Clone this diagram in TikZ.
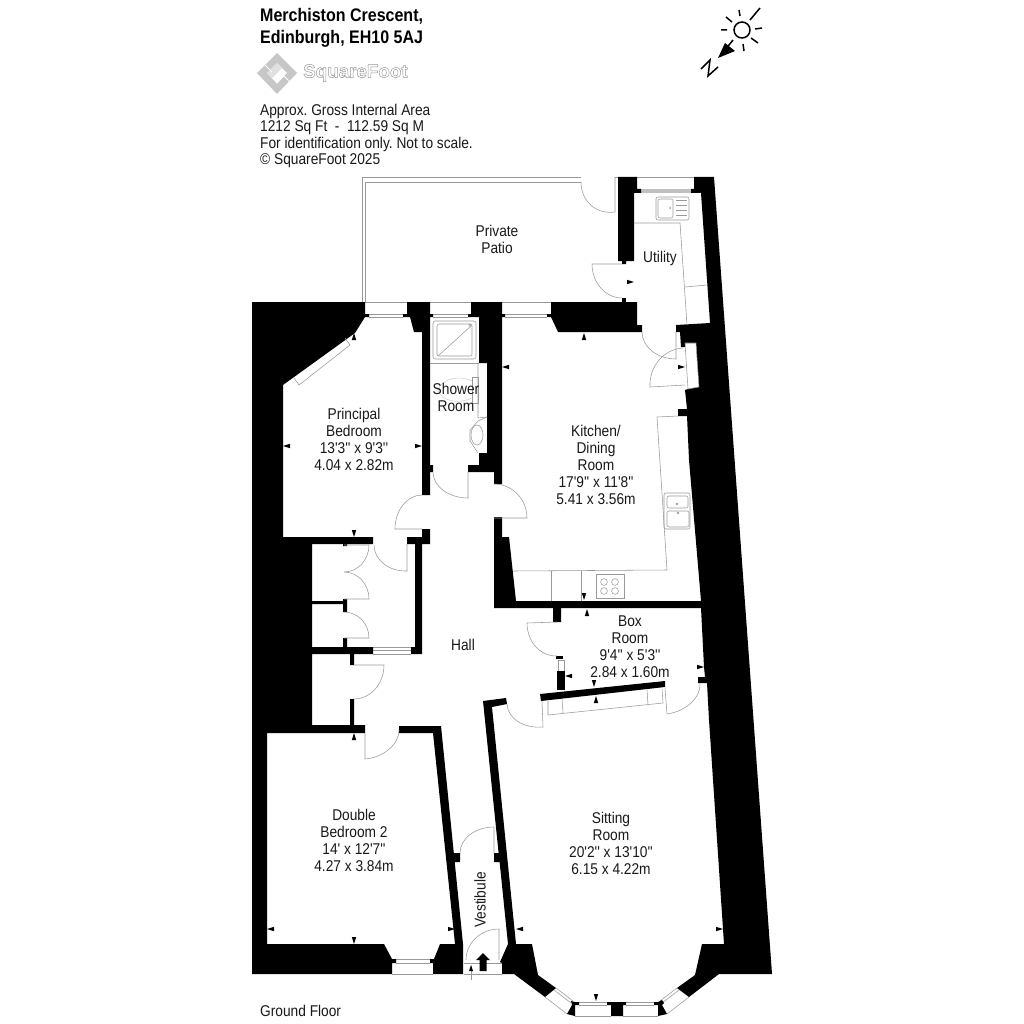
\documentclass[tikz,border=0pt]{standalone}
\usepackage{fontspec}
\defaultfontfeatures[\rmfamily]{}
\setmainfont{Liberation Sans}[FakeStretch=0.88]
\newfontfamily\logofont{Liberation Sans Bold}
\frenchspacing
\usetikzlibrary{calc}
\tikzset{
  x=1pt,y=-1pt,
  wall/.style={fill=black,draw=none},
  fine/.style={draw=black!40,line width=.55pt,line join=miter},
  room/.style={font=\fontsize{15.6}{17}\selectfont,align=center,inner sep=0pt,text=black!90},
  tiny/.style={fill=black,draw=none},
  ray/.style={draw=black,line width=1.5pt}
}
% hinge, leaf end, open end
\newcommand\door[3]{\draw[fine] (#1) -- (#2) .. controls ($(#2)+0.5523*(#3)-0.5523*(#1)$) and ($(#3)+0.5523*(#2)-0.5523*(#1)$) .. (#3);}
\newcommand\tickU[2]{\fill[tiny] (#1,#2) -- (#1+2.2,#2+7) -- (#1-2.2,#2+7) -- cycle;}
\newcommand\tickD[2]{\fill[tiny] (#1,#2) -- (#1+2.2,#2-7) -- (#1-2.2,#2-7) -- cycle;}
\newcommand\tickL[2]{\fill[tiny] (#1,#2) -- (#1+7,#2+2.2) -- (#1+7,#2-2.2) -- cycle;}
\newcommand\tickR[2]{\fill[tiny] (#1,#2) -- (#1-7,#2+2.2) -- (#1-7,#2-2.2) -- cycle;}
\begin{document}
\begin{tikzpicture}
\useasboundingbox (0,0) rectangle (1024,1024);
\fill[white] (0,0) rectangle (1024,1024);

% ---- patio
\draw[fine] (362,302) -- (362,177) -- (581,177);
\draw[fine] (365,302) -- (365,182) -- (581,182);
\draw[fine] (615,177) -- (618,177);
\door{615,177}{615,212}{581,182}

% ---- windows (thin lines)
\draw[fine] (365,302) -- (407,302) (369,314) -- (403,314) (369,317) -- (403,317);
\draw[fine] (430,302) -- (471,302) (433,314) -- (468,314) (433,317) -- (468,317);
\draw[fine] (502,302) -- (551,302) (505,314) -- (547,314) (505,317) -- (547,317);
\draw[fine] (637,177) -- (694,177);
\fill[black!25] (641,189) rectangle (691,193);
\draw[fine] (373,647) -- (411,647) (373,650) -- (411,650) (373,654) -- (411,654);
\draw[fine] (392,974) -- (433,974) (396,959) -- (430,959) (396,963) -- (430,963);
\draw[fine] (558,660) rectangle (564,671);

% ---- bay windows
\draw[fine] (579,1002) -- (607,1002) (579,1005) -- (607,1005) (575,1016) -- (611,1016);
\draw[fine] (626,1002) -- (654,1002) (626,1005) -- (654,1005) (623,1016) -- (658,1016);
\draw[fine] (545,997) -- (567,1014) (556,988) -- (573,1001) (554,990) -- (571,1003);
\draw[fine] (689,997) -- (667,1014) (677,988) -- (660,1001) (679,990) -- (662,1003);

% ---- walls
\fill[wall] (252,302) -- (365,302) -- (365,314) -- (369,314) -- (369,317) -- (365,317) -- (355,333) -- (283,385) -- (283,537) -- (373,537) -- (373,544) -- (347,544) -- (347,546) -- (343,546) -- (343,544) -- (312,544) -- (312,601) -- (343,601) -- (343,599) -- (347,599) -- (347,612) -- (343,612) -- (343,604) -- (312,604) -- (312,647) -- (343,647) -- (343,638) -- (347,638) -- (347,647) -- (373,647) -- (373,654) -- (354,654) -- (354,665) -- (350,665) -- (350,654) -- (312,654) -- (312,725) -- (350,725) -- (350,699) -- (354,699) -- (354,725) -- (365,725) -- (365,733) -- (267,733) -- (267,944) -- (384,944) -- (392,959) -- (396,959) -- (396,963) -- (392,963) -- (392,974) -- (252,974) -- cycle;
\fill[wall] (407,302) -- (430,302) -- (430,314) -- (433,314) -- (433,317) -- (430,317) -- (430,465) -- (433,465) -- (433,472) -- (430,472) -- (430,495) -- (422,495) -- (422,332) -- (414,332) -- (410,317) -- (403,317) -- (403,314) -- (407,314) -- cycle;
\fill[wall] (422,529) -- (430,529) -- (430,544) -- (422,544) -- (422,654) -- (411,654) -- (411,647) -- (415,647) -- (415,544) -- (407,544) -- (407,537) -- (422,537) -- cycle;
\fill[wall] (471,302) -- (502,302) -- (502,314) -- (505,314) -- (505,317) -- (502,317) -- (502,484) -- (494,484) -- (494,472) -- (468,472) -- (468,465) -- (479,465) -- (479,453) -- (487,453) -- (487,363) -- (479,363) -- (479,317) -- (468,317) -- (468,314) -- (471,314) -- cycle;
\fill[wall] (494,517) -- (502,517) -- (502,537) -- (509,537) -- (516,601) -- (701,601) -- (701,608) -- (561,608) -- (561,622) -- (553,622) -- (553,608) -- (494,608) -- cycle;
\fill[wall] (551,302) -- (637,302) -- (637,325) -- (642,325) -- (642,332) -- (558,332) -- (551,317) -- (547,317) -- (547,314) -- (551,314) -- cycle;
\fill[wall] (618,177) -- (637,177) -- (637,189) -- (641,189) -- (641,193) -- (634,193) -- (634,261) -- (626,261) -- (626,264) -- (622,264) -- (622,261) -- (618,261) -- cycle;
\fill[wall] (622,298) rectangle (626,302);
\fill[wall] (694,177) -- (714,177) -- (772,974) -- (719,974) -- (689,997) -- (677,988) -- (695,975) -- (702,944) -- (724,944) -- (709,720) -- (707,683) -- (698,683) -- (698,677) -- (705,677) -- (704,667) -- (701,608) -- (701,601) -- (689,460) -- (687,416) -- (678,416) -- (678,409) -- (687,409) -- (685,390) -- (688,389) -- (699,387) -- (696,343) -- (685,343) -- (685,347) -- (681,347) -- (680,332) -- (676,332) -- (676,325) -- (710,323) -- (701,193) -- (691,193) -- (691,189) -- (694,189) -- cycle;
\draw[fine] (685,343) -- (696,343) -- (699,387) -- (688,389) -- cycle;
\fill[wall] (540,694) -- (665,681) -- (665,687) -- (541,701) -- cycle;
\fill[wall] (557,671) rectangle (565,690);
\fill[wall] (556,656) rectangle (563,659);
\fill[wall] (483,701) -- (506,698) -- (507,704) -- (492,707) -- (516,944) -- (532,944) -- (538,975) -- (556,988) -- (545,997) -- (514,974) -- (502,974) -- (502,963) -- (500,962) -- (508,944) -- (499.6,862) -- (494,862) -- (494,853) -- (498.6,853) -- cycle;
\fill[wall] (399,726) -- (441,726) -- (453.8,853) -- (460,853) -- (460,862) -- (454.7,862) -- (463,944) -- (463,974) -- (433,974) -- (433,963) -- (430,963) -- (430,959) -- (434,959) -- (440,944) -- (455,944) -- (433,733) -- (399,733) -- cycle;
\fill[wall] (571,1001) -- (575,1002) -- (579,1002) -- (579,1005) -- (575,1005) -- (575,1016) -- (567,1014) -- (572,1005) -- cycle;
\fill[wall] (607,1002) -- (626,1002) -- (626,1005) -- (623,1005) -- (623,1016) -- (611,1016) -- (611,1005) -- (607,1005) -- cycle;
\fill[wall] (654,1002) -- (658,1002) -- (662,1000) -- (664,1003) -- (662,1005) -- (667,1014) -- (658,1016) -- (658,1005) -- (654,1005) -- cycle;

% ---- doors
\door{622,264}{592,264}{622,298}
\door{676,332}{676,359}{642,332}
\door{685,385}{650,387}{683,348}
\door{468,472}{468,498}{433,472}
\door{422,529}{395,529}{422,495}
\door{494,518}{527,518}{494,484}
\door{407,544}{407,571}{374,545}
\door{344,545}{369,545}{344,572}
\door{344,599}{369,599}{344,572}
\door{344,638}{369,638}{344,612}
\door{354,665}{384,665}{354,699}
\door{365,733}{365,759}{399,730}
\door{557,622}{527,623}{557,656}
\door{542,701}{543,727}{507,704}
\door{665,688}{667,714}{700,683}
\door{494,853}{494,827}{460,853}
\door{499,960}{499,929}{466,960}

% ---- entrance
\draw[fine] (464,963) -- (502,963) (464,974) -- (502,974);
\fill[wall] (483,953) -- (490,960) -- (486.5,960) -- (486.5,971) -- (479.5,971) -- (479.5,960) -- (476,960) -- cycle;
\draw[fine] (471,966) -- (471,980);
\fill[tiny] (471,965) -- (473,971) -- (469,971) -- cycle;

% ---- fittings: shower room
\draw[fine,rounded corners=2pt] (433,321) rectangle (476,359);
\draw[fine,rounded corners=2pt] (437,324) rectangle (472,356);
\draw[fine] (438,356) -- (471,326);
\draw[fine] (470,325) circle (1.2);
\draw[fine] (430,363) -- (479,363);
\draw[fine] (478,363) -- (478,418) (487,417) -- (478,418);
\draw[fine] (472,377) rectangle (478,403);
\draw[black!20,line width=.5pt] (472,381) .. controls (460,375) and (442,378) .. (438,390) .. controls (442,402) and (460,404) .. (472,398);
\draw[fine] (477,435) ellipse (6 and 10);
\draw[fine] (487,417) -- (478,421) -- (470,430) -- (470,441) -- (478,453);

% ---- fittings: utility
\draw[fine,rounded corners=2pt] (656,197) rectangle (689,220);
\draw[fine,rounded corners=2pt] (658,199) rectangle (673,218);
\fill[black!40] (670,208) circle (1);
\draw[fine] (676,200) -- (687,200) (676,205) -- (687,205) (676,210) -- (687,210) (676,215) -- (687,215);
\draw[fine] (634,223) -- (680,223) -- (687,325);
\draw[fine] (685,287) -- (707,285);

% ---- fittings: kitchen
\draw[fine] (678,416) -- (657,417) -- (667,570) -- (513,571);
\draw[fine] (551,571) -- (551,601) (581,571) -- (581,601);
\draw[fine] (596,574) rectangle (624,598);
\draw[fine] (604,582) circle (3.4) (615,582) circle (3.4) (604,591) circle (3.4) (615,591) circle (3.4);
\draw[fine,rounded corners=2pt] (664,493) rectangle (690,529);
\draw[fine,rounded corners=2pt] (667,496) rectangle (688,508);
\draw[fine,rounded corners=2pt] (667,511) rectangle (689,527);
\draw[fine] (677,504) circle (.9) (678,513) circle (.9);

% ---- fittings: box-room unit and window seat
\draw[fine] (548,701) -- (548,715) -- (663,703) -- (662,689);
\draw[fine] (563,713) -- (562,699) (648,705) -- (647,690);
\draw[fine] (345,338) -- (350,345) -- (299,385) -- (294,378);

% ---- dimension ticks
\tickL{283}{446} \tickR{422}{446} \tickU{354}{333} \tickD{354}{537}
\tickL{502}{367} \tickR{685}{367} \tickU{584}{333} \tickD{584}{600}
\tickR{634}{282}
\tickU{587}{609} \tickL{565}{676} \tickR{704}{667} \tickD{594}{687} \tickU{596}{696}
\tickU{354}{733} \tickL{267}{929} \tickR{455}{929} \tickD{354}{944}
\tickL{516}{929} \tickR{723}{929} \tickD{596}{1001}

% ---- room labels
\node[room] (patio) at (497,239) {Private\\Patio};
\node[room] (utility) at (660,258) {Utility};
\node[room] (principal) at (354,439) {Principal\\Bedroom\\13'3'' x 9'3''\\4.04 x 2.82m};
\node[room] (shower) at (456,397) {Shower\\Room};
\node[room] (kitchen) at (596,465) {Kitchen/\\Dining\\Room\\17'9'' x 11'8''\\5.41 x 3.56m};
\node[room] (box) at (630,647) {Box\\Room\\9'4'' x 5'3''\\2.84 x 1.60m};
\node[room] (hall) at (463,645) {Hall};
\node[room] (double) at (354,840) {Double\\Bedroom 2\\14' x 12'7''\\4.27 x 3.84m};
\node[room] (sitting) at (611,843) {Sitting\\Room\\20'2'' x 13'10''\\6.15 x 4.22m};
\node[room,rotate=90] (vestibule) at (480,900) {Vestibule};
\node[room,anchor=west] (floor) at (260,1011) {Ground Floor};

% ---- header
\node[anchor=north west,inner sep=0pt,align=left,font=\fontsize{18.2}{22}\bfseries\selectfont] (title) at (260,8) {Merchiston Crescent,\\Edinburgh, EH10 5AJ};
\node[anchor=north west,inner sep=0pt,align=left,font=\fontsize{15.6}{16.6}\selectfont,text=black!90] (info) at (260,103.5) {Approx. Gross Internal Area\\1212 Sq Ft\ \ -\ \ 112.59 Sq M\\For identification only. Not to scale.\\\textcopyright\ SquareFoot 2025};

% ---- logo
\fill[black!22,even odd rule] (277,53) -- (297,73) -- (277,94) -- (257,73) -- cycle (277,63) -- (267,73) -- (277,84) -- (287,73) -- cycle;
\fill[black!12] (277,63) -- (282,68) -- (272,78) -- (267,73) -- cycle;
\draw[white,line width=1pt] (265,65) -- (272,72) (289,81) -- (282,74);
\node[anchor=west,inner sep=0pt,font=\logofont\fontsize{18.8}{22}\selectfont,text=black!40] (logo) at (303,73) {\special{pdf:code 1 Tr 0.5 w}SquareFoot\special{pdf:code 0 Tr}};

% ---- compass
\draw[ray] (742,30) circle (8);
\draw[ray] (739,10) -- (740,16) (726,17) -- (732,22) (721,30) -- (727,30) (755,29) -- (762,28) (751,38) -- (758,43) (743,44) -- (744,51) (750,20) -- (760,8);
\draw[ray] (733,40) -- (725,50);
\fill[wall] (718,58) -- (725,43) -- (735,51) -- cycle;
\draw[ray,line join=miter] (701,69) -- (710,60) -- (708,76) -- (718,67);
\end{tikzpicture}
\end{document}
